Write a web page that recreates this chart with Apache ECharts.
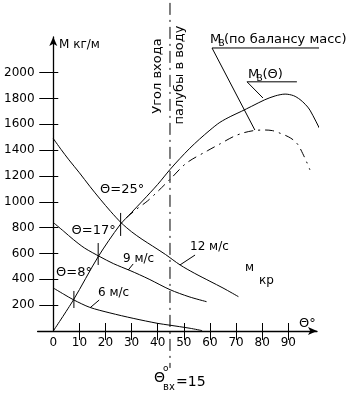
<!DOCTYPE html>
<html>
<head>
<meta charset="utf-8">
<script src="https://cdn.jsdelivr.net/npm/echarts@6/dist/echarts.min.js"></script>
<style>
  html, body { margin: 0; padding: 0; background: #fff; }
  #chart { width: 350px; height: 400px; }
</style>
</head>
<body>
<div id="chart"></div>
<script>
// углы и массы
var aXTicks = [10, 20, 30, 40, 50, 60, 70, 80, 90];
var aXLabels = [0, 10, 20, 30, 40, 50, 60, 70, 80, 90];
var aYTicks = [200, 400, 600, 800, 1000, 1200, 1400, 1600, 1800, 2000];

// M_B(Θ) — сплошная
var aThetaMain = [0, 7.7, 17.2, 25.5, 30, 34.5, 40, 44.7, 48.5, 52.3, 56, 60, 63.8, 68, 72, 76, 81, 85, 88.8, 92, 94.5, 96.5, 98.3, 103, 108.8];
var aMassMain = [0, 240, 575, 820, 918, 1014, 1135, 1250, 1335, 1415, 1485, 1555, 1615, 1662, 1700, 1740, 1790, 1820, 1834, 1822, 1792, 1755, 1710, 1527, 1302];

// M_B по балансу масс — штрихпунктир
var aThetaBal = [28, 32, 36, 40, 45, 51, 59, 64, 69, 73, 77, 81, 84, 87, 90, 92, 93.8, 95.5, 97, 98.3];
var aMassBal = [876, 945, 1005, 1080, 1180, 1300, 1395, 1450, 1505, 1535, 1552, 1556, 1551, 1530, 1504, 1478, 1440, 1375, 1310, 1247];

// скорости 12, 9, 6 м/с
var aTheta12 = [0, 3, 6, 10, 14, 18, 22, 26, 30, 34, 38, 43, 48.6, 54, 60, 65, 70.9];
var aMass12 = [1490, 1405, 1325, 1225, 1120, 1020, 925, 838, 768, 710, 658, 592, 511, 448, 385, 333, 266];
var aTheta9 = [0, 4, 7.7, 12, 17.9, 23, 29.4, 33, 37, 44.7, 52, 58.7];
var aMass9 = [840, 772, 708, 642, 575, 522, 468, 436, 398, 320, 265, 227];
var aTheta6 = [0, 4, 7.9, 14, 21.7, 30.6, 40, 44.3, 52.4, 57];
var aMass6 = [333, 285, 240, 183, 140, 98, 59, 46, 21, 3];

// угол входа палубы в воду
var fThetaEntry = 44.7;
var aEntryRange = [2540, -286];

// засечки Θ=8, 17, 25
var aMarkTheta = [7.9, 17.2, 25.8];
var aMarkLow = [178, 511, 736];
var aMarkHigh = [310, 681, 914];

var sFont = 'DejaVu Sans';

function Pairs(aX, aY) {
    var aOut = [];
    for (var i = 0; i < aX.length; i++) {
        aOut.push([aX[i], aY[i]]);
    }
    return aOut
}

function LineSeries(aData, jExtra) {
    var jSeries = {
        type: 'line',
        data: aData,
        symbol: 'none',
        clip: false,
        silent: true,
        animation: false,
        lineStyle: {color: '#000', width: 1}
    };
    for (var k in jExtra) {
        jSeries[k] = jExtra[k];
    }
    return jSeries
}

function Text(x, y, sText, iSize, jExtra) {
    var jItem = {
        type: 'text',
        x: x,
        y: y,
        silent: true,
        style: {
            text: sText,
            font: iSize + 'px ' + sFont,
            fill: '#000',
            align: 'left',
            verticalAlign: 'middle'
        }
    };
    for (var k in jExtra) {
        jItem[k] = jExtra[k];
    }
    return jItem
}

function Plain(v) {
    return String(v)
}

var aSeries = [
    LineSeries(Pairs(aThetaMain, aMassMain), {smooth: 0.3}),
    LineSeries(Pairs(aThetaBal, aMassBal), {smooth: 0.3, lineStyle: {color: '#000', width: 1, type: [9, 5, 2, 5]}}),
    LineSeries(Pairs(aTheta12, aMass12), {smooth: 0.3}),
    LineSeries(Pairs(aTheta9, aMass9), {smooth: 0.3}),
    LineSeries(Pairs(aTheta6, aMass6), {smooth: 0.3}),
    LineSeries([[fThetaEntry, aEntryRange[0]], [fThetaEntry, aEntryRange[1]]], {lineStyle: {color: '#000', width: 1, type: [12, 5, 2, 5]}}),
    // выноски
    LineSeries([[48.5, 511], [54.3, 588]]),
    LineSeries([[28.7, 472], [30.6, 519]]),
    LineSeries([[14.1, 180], [17.6, 240]]),
    LineSeries([[77.2, 1556], [60.8, 2191], [109.0, 2191]]),
    LineSeries([[80.3, 1804], [74.2, 1929], [93.3, 1929]])
];
for (var i = 0; i < aMarkTheta.length; i++) {
    aSeries.push(LineSeries([[aMarkTheta[i], aMarkLow[i]], [aMarkTheta[i], aMarkHigh[i]]]));
}

var aGraphic = [
    Text(59, 45, 'М кг/м', 12),
    Text(157.5, 76, 'Угол входа', 13, {rotation: Math.PI / 2, style: {text: 'Угол входа', font: '13px ' + sFont, fill: '#000', align: 'center', verticalAlign: 'middle'}}),
    Text(179.5, 75, 'палубы в воду', 13, {rotation: Math.PI / 2, style: {text: 'палубы в воду', font: '13px ' + sFont, fill: '#000', align: 'center', verticalAlign: 'middle'}}),
    Text(210, 40, 'М', 13),
    Text(218.5, 44, 'В', 9),
    Text(224, 40, '(по балансу масс)', 13),
    Text(248, 75, 'М', 13),
    Text(256.5, 79, 'В', 9),
    Text(262.5, 75, '(Θ)', 13),
    Text(100, 190, 'Θ=25°', 13),
    Text(71.5, 231, 'Θ=17°', 13),
    Text(56, 273, 'Θ=8°', 13),
    Text(98, 293, '6 м/с', 12),
    Text(123, 259, '9 м/с', 12),
    Text(190, 247, '12 м/с', 12),
    Text(245, 268, 'м', 12),
    Text(259, 281, 'кр', 12),
    Text(299, 324, 'Θ°', 13),
    Text(154, 378, 'Θ', 14),
    Text(163, 369, 'o', 9),
    Text(163, 387, 'вх', 10),
    Text(176, 382, '=15', 14)
];

var jOption = {
    backgroundColor: '#fff',
    animation: false,
    grid: {left: 37.6, right: 33, top: 37, bottom: 69, containLabel: false, outerBoundsMode: 'none'},
    xAxis: [
        {
            type: 'value', min: -6, max: 101, position: 'bottom',
            axisLine: {onZero: false, symbol: ['none', 'arrow'], symbolSize: [6, 9], lineStyle: {color: '#000', width: 1.3}},
            axisTick: {customValues: aXTicks, length: 9, lineStyle: {color: '#000', width: 1}},
            axisLabel: {customValues: aXLabels, margin: 6, color: '#000', fontSize: 12, fontFamily: sFont, formatter: Plain},
            splitLine: {show: false}
        },
        {
            type: 'value', min: -6, max: 101, position: 'bottom',
            axisLine: {show: false, onZero: false},
            axisTick: {customValues: aXTicks, inside: true, length: 8, lineStyle: {color: '#000', width: 1}},
            axisLabel: {show: false},
            splitLine: {show: false}
        }
    ],
    yAxis: [
        {
            type: 'value', min: 0, max: 2276, position: 'left',
            axisLine: {onZero: true, onZeroAxisIndex: 0, symbol: ['none', 'arrow'], symbolSize: [6, 9], lineStyle: {color: '#000', width: 1.3}},
            axisTick: {customValues: aYTicks, length: 14, lineStyle: {color: '#000', width: 1}},
            axisLabel: {customValues: aYTicks, margin: 3, color: '#000', fontSize: 12, fontFamily: sFont, formatter: Plain},
            splitLine: {show: false}
        },
        {
            type: 'value', min: 0, max: 2276, position: 'left',
            axisLine: {show: false, onZero: true, onZeroAxisIndex: 0},
            axisTick: {customValues: aYTicks, inside: true, length: 5, lineStyle: {color: '#000', width: 1}},
            axisLabel: {show: false},
            splitLine: {show: false}
        }
    ],
    series: aSeries,
    graphic: aGraphic
};

var myChart = echarts.init(document.getElementById('chart'), null, {renderer: 'canvas'});
myChart.setOption(jOption);
</script>
</body>
</html>
